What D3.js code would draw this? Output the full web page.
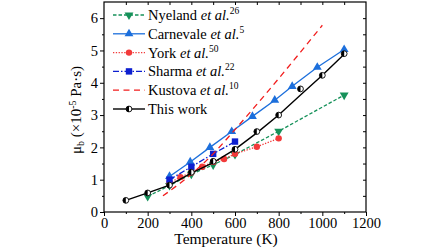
<!DOCTYPE html>
<html>
<head>
<meta charset="utf-8">
<script src="https://cdn.jsdelivr.net/npm/d3@7"></script>
<style>
  body { margin: 0; background: #fff; }
  svg { display: block; font-family: "Liberation Serif", "Times New Roman", serif; }
</style>
</head>
<body>
<svg id="chart" width="448" height="252"></svg>
<script>
// ── Data ─────────────────────────────────────────────────────────────────────
const nyelandT   = [200, 300, 400, 500, 600, 800, 1100];
const nyelandMu  = [0.48, 0.82, 1.17, 1.46, 1.78, 2.5, 3.62];

const carnevaleT  = [300, 395, 485, 585, 680, 782, 862, 977, 1100];
const carnevaleMu = [1.1, 1.55, 2.0, 2.49, 2.96, 3.46, 3.89, 4.48, 5.03];

const yorkT  = [300, 350, 400, 450, 500, 550, 600, 700, 800];
const yorkMu = [0.9, 1.08, 1.22, 1.4, 1.55, 1.64, 1.8, 2.02, 2.28];

const sharmaT  = [300, 400, 500, 600];
const sharmaMu = [1.0, 1.4, 1.8, 2.18];

const kustovaT  = [270, 350, 400, 500, 600, 700, 800, 900, 1000];
const kustovaMu = [0.5, 0.9, 1.17, 1.8, 2.55, 3.33, 4.13, 4.95, 5.78];

const workLineT  = [100, 200, 300, 400, 500, 600, 700, 800, 900, 1000, 1100];
const workLineMu = [0.36, 0.59, 0.83, 1.2, 1.53, 1.94, 2.45, 3.0, 3.62, 4.23, 4.88];
const workPtT    = [100, 200, 300, 400, 500, 600, 700, 800, 900, 1000, 1100];
const workPtMu   = [0.36, 0.59, 0.83, 1.23, 1.57, 1.94, 2.49, 3.0, 3.81, 4.23, 4.9];

const xTicks = [0, 200, 400, 600, 800, 1000, 1200];
const yTicks = [0, 1, 2, 3, 4, 5, 6];

// ── Layout ───────────────────────────────────────────────────────────────────
const svg = d3.select("#chart");
const L = 104, R = 366, T = 2, B = 212;

const x = d3.scaleLinear().domain([0, 1200]).range([L, R]);
const y = d3.scaleLinear().domain([0, 6.5]).range([B, T]);

// frame
svg.append("rect").attr("x", L).attr("y", T).attr("width", R - L).attr("height", B - T)
  .attr("fill", "none").attr("stroke", "#000").attr("stroke-width", 1.2);

// ── Axes ─────────────────────────────────────────────────────────────────────
const minorX = d3.range(100, 1200, 200);
const minorY = d3.range(0.5, 6.5, 1);

const gx = svg.append("g").attr("transform", `translate(0,${B})`)
  .call(d3.axisBottom(x).tickValues(xTicks).tickSize(4).tickPadding(2).tickFormat(d3.format("d")));
gx.append("g").call(d3.axisBottom(x).tickValues(minorX).tickSize(2).tickFormat(""));

const gy = svg.append("g").attr("transform", `translate(${L},0)`)
  .call(d3.axisLeft(y).tickValues(yTicks).tickSize(4).tickPadding(2).tickFormat(d3.format("d")));
gy.append("g").call(d3.axisLeft(y).tickValues(minorY).tickSize(2).tickFormat(""));

// mirrored inward ticks on top & right
svg.append("g").attr("transform", `translate(0,${T})`)
  .call(d3.axisBottom(x).tickValues(d3.range(100, 1200, 100)).tickSize(3).tickFormat(""));
svg.append("g").attr("transform", `translate(${R},0)`)
  .call(d3.axisLeft(y).tickValues(d3.range(0.5, 6.5, 0.5)).tickSize(3).tickFormat(""));

svg.selectAll(".domain").remove();
svg.selectAll(".tick line").attr("stroke", "#000").attr("stroke-width", 1);
svg.selectAll(".tick text").attr("font-family", "Liberation Serif").attr("font-size", 14.5)
  .attr("fill", "#000");

// axis titles
svg.append("text").attr("x", 226).attr("y", 244).attr("text-anchor", "middle")
  .attr("font-size", 15.5).text("Temperature (K)");

const yl = svg.append("text").attr("transform", "translate(81,110) rotate(-90)")
  .attr("text-anchor", "middle").attr("font-size", 15);
yl.append("tspan").text("μ");
yl.append("tspan").attr("font-size", 10).attr("dy", 3).text("b");
yl.append("tspan").attr("dy", -3).text(" (×10");
yl.append("tspan").attr("font-size", 10).attr("dy", -5).text("-5");
yl.append("tspan").attr("dy", 5).text(" Pa·s)");

// ── Series ───────────────────────────────────────────────────────────────────
const series = [
  { name: "Nyeland", sup: "26", t: nyelandT, mu: nyelandMu, color: "#16915a", dash: "3.5,2", marker: "down" },
  { name: "Carnevale", sup: "5", t: carnevaleT, mu: carnevaleMu, color: "#1c6fdc", dash: null, marker: "up" },
  { name: "York", sup: "50", t: yorkT, mu: yorkMu, color: "#f23a3a", dash: "1.3,1.5", marker: "circle" },
  { name: "Sharma", sup: "22", t: sharmaT, mu: sharmaMu, color: "#0d1fd0", dash: "6,2,1.5,2", marker: "square" },
  { name: "Kustova", sup: "10", t: kustovaT, mu: kustovaMu, color: "#f21c1c", dash: "6,4.5", marker: null },
];

const line = d3.line().x(d => x(d[0])).y(d => y(d[1]));
const curved = d3.line().x(d => x(d[0])).y(d => y(d[1])).curve(d3.curveMonotoneX);

function marker(g, type, color, px, py) {
  if (type === "up") {
    g.append("path").attr("d", d3.symbol(d3.symbolTriangle, 34)()).attr("transform", `translate(${px},${py})`)
      .attr("fill", color);
  } else if (type === "down") {
    g.append("path").attr("d", d3.symbol(d3.symbolTriangle, 34)())
      .attr("transform", `translate(${px},${py}) rotate(180)`).attr("fill", color);
  } else if (type === "circle") {
    g.append("circle").attr("cx", px).attr("cy", py).attr("r", 3.2).attr("fill", color);
  } else if (type === "square") {
    g.append("rect").attr("x", px - 3.2).attr("y", py - 3.2).attr("width", 6.4).attr("height", 6.4).attr("fill", color);
  } else if (type === "half") {
    g.append("circle").attr("cx", px).attr("cy", py).attr("r", 2.9).attr("fill", "#fff")
      .attr("stroke", "#000").attr("stroke-width", 0.9);
    g.append("path").attr("d", `M${px},${py - 2.9}A2.9,2.9 0 0 0 ${px},${py + 2.9}Z`).attr("fill", "#000");
  }
}

const plot = svg.append("g");
series.forEach(s => {
  const pts = s.t.map((t, i) => [t, s.mu[i]]);
  plot.append("path").attr("d", (s.marker ? line : curved)(pts)).attr("fill", "none")
    .attr("stroke", s.color).attr("stroke-width", 1.3)
    .attr("stroke-dasharray", s.dash);
  if (s.marker) pts.forEach(p => marker(plot, s.marker, s.color, x(p[0]), y(p[1])));
});

// This work
plot.append("path").attr("d", line(workLineT.map((t, i) => [t, workLineMu[i]])))
  .attr("fill", "none").attr("stroke", "#000").attr("stroke-width", 1.4);
workPtT.forEach((t, i) => marker(plot, "half", "#000", x(t), y(workPtMu[i])));

// ── Legend ───────────────────────────────────────────────────────────────────
const legend = svg.append("g");
const legItems = series.concat([{ name: "This work", color: "#000", dash: null, marker: "half", work: true }]);
legItems.forEach((s, i) => {
  const ly = 15 + i * 18.8;
  legend.append("line").attr("x1", 113).attr("x2", 145).attr("y1", ly).attr("y2", ly)
    .attr("stroke", s.color).attr("stroke-width", s.work ? 1.4 : 1.3).attr("stroke-dasharray", s.dash);
  if (s.marker) marker(legend, s.marker, s.color, 129, ly);
  const tx = legend.append("text").attr("x", 148).attr("y", ly + 5).attr("font-size", 14.5);
  tx.append("tspan").text(s.name);
  if (!s.work) {
    tx.append("tspan").attr("font-style", "italic").text(" et al.");
    tx.append("tspan").attr("font-size", 9.5).attr("dy", -6).text(s.sup);
  }
});
</script>
</body>
</html>
